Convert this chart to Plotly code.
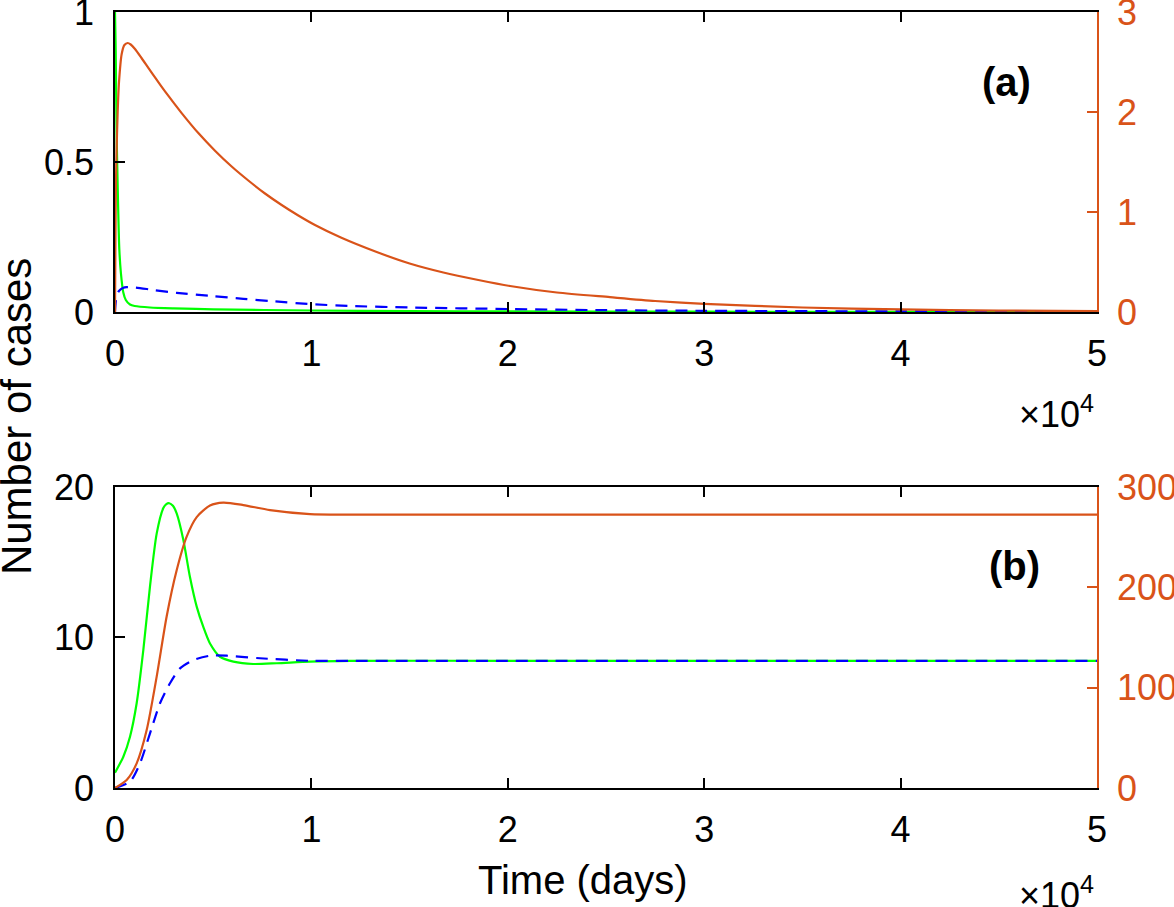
import plotly.graph_objects as go

# ---------------- data (days) ----------------
# Panel (a)
t_a_orange = [0, 25, 50, 85, 136, 204, 340, 480, 645, 800, 1018, 1350, 1697, 2100, 2546, 3000, 3394,
              4243, 5091, 5940, 6788, 7637, 8485, 9334, 10182, 11500, 13325, 15000, 16718, 18500,
              20112, 22500, 25204, 27500, 30000, 35000, 40000, 45000, 50000]
orange_a = [0, 0.8, 1.3, 1.65, 2.0, 2.3, 2.58, 2.67, 2.69, 2.675, 2.63, 2.54, 2.441, 2.328, 2.207, 2.088, 1.989,
            1.789, 1.613, 1.455, 1.315, 1.185, 1.07, 0.965, 0.87, 0.745, 0.60, 0.485, 0.395, 0.32,
            0.26, 0.195, 0.148, 0.11, 0.082, 0.045, 0.026, 0.014, 0.008]

t_a_green = [0, 15, 36, 80, 117, 160, 219, 300, 423, 550, 764, 1000, 1782, 3000, 5000,
             10000, 15000, 20000, 30000, 40000, 50000]
green_a = [1.0, 0.95, 0.87, 0.6, 0.48, 0.35, 0.21, 0.13, 0.065, 0.04, 0.025, 0.02, 0.015, 0.012, 0.009,
           0.005, 0.003, 0.002, 0.001, 0.0005, 0.0003]

t_a_blue = [0, 20, 50, 100, 200, 400, 600, 1000, 2000, 3140, 5000, 6533, 8000, 10000, 12000,
            15000, 20000, 25000, 30000, 40000, 50000]
blue_a = [0, 0.02, 0.04, 0.055, 0.07, 0.08, 0.083, 0.082, 0.073, 0.064, 0.053, 0.044, 0.036, 0.026, 0.02,
          0.015, 0.01, 0.006, 0.004, 0.002, 0.001]

# Panel (b)
t_b_green = [0, 424, 764, 1103, 1443, 1782, 2122, 2461, 2600, 2766, 2950, 3140, 3478, 3819, 4160, 4497,
             4837, 5347, 6025, 7040, 8234, 9929, 12000, 20000, 30000, 40000, 50000]
green_b = [1.02, 2.08, 3.41, 5.63, 9.17, 13.4, 16.9, 18.6, 18.85, 18.92, 18.75, 18.25, 16.5, 14.0, 12.05, 10.7,
           9.6, 8.72, 8.4, 8.24, 8.29, 8.4, 8.45, 8.45, 8.45, 8.45, 8.45]

t_b_orange = [0, 594, 1103, 1613, 2122, 2630, 3140, 3649, 4160, 4837, 5516, 6533, 7893, 9929,
              12000, 20000, 30000, 40000, 50000]
orange_b = [0, 8, 24.6, 57.8, 111, 171, 217, 250.5, 270, 281.5, 284.4, 282, 277, 273,
            272.5, 272.5, 272.5, 272.5, 272.5]

t_b_blue = [0, 764, 1273, 1782, 2291, 2800, 3310, 3987, 4837, 5688, 7383, 9929, 12000,
            20000, 30000, 40000, 50000]
blue_b = [0, 0.42, 1.64, 3.63, 5.63, 6.96, 7.95, 8.5, 8.79, 8.79, 8.62, 8.45, 8.45,
          8.45, 8.45, 8.45, 8.45]

x_tickvals = [0, 10000, 20000, 30000, 40000, 50000]
x_ticktext = ["0", "1", "2", "3", "4", "5"]
ya_left_ticks = [0, 0.5, 1]
ya_left_text = ["0", "0.5", "1"]
ya_right_ticks = [0, 1, 2, 3]
yb_left_ticks = [0, 10, 20]
yb_right_ticks = [0, 100, 200, 300]

ORANGE = "#D95319"
GREEN = "#00FF00"
BLUE = "#0000FF"
FONT = "Liberation Sans, Arial, Helvetica, sans-serif"
TICK_SIZE = 36
LABEL_SIZE = 40

fig = go.Figure()
lw = 2.2
SM = 0.7
def line(color, dash="solid"):
    return dict(color=color, width=lw, dash=dash, shape="spline", smoothing=SM)

fig.add_trace(go.Scatter(x=t_a_green, y=green_a, mode="lines", line=line(GREEN), xaxis="x", yaxis="y"))
fig.add_trace(go.Scatter(x=t_a_blue, y=blue_a, mode="lines", line=line(BLUE, "12px,8px"), xaxis="x", yaxis="y"))
fig.add_trace(go.Scatter(x=t_a_orange, y=orange_a, mode="lines", line=line(ORANGE), xaxis="x", yaxis="y2"))

fig.add_trace(go.Scatter(x=t_b_green, y=green_b, mode="lines", line=line(GREEN), xaxis="x2", yaxis="y3"))
fig.add_trace(go.Scatter(x=t_b_blue, y=blue_b, mode="lines", line=line(BLUE, "12px,8px"), xaxis="x2", yaxis="y3"))
fig.add_trace(go.Scatter(x=t_b_orange, y=orange_b, mode="lines", line=line(ORANGE), xaxis="x2", yaxis="y4"))

common_x = dict(range=[0, 50000], tickvals=x_tickvals, ticktext=x_ticktext, ticks="inside", ticklen=10,
                tickwidth=1.5, tickcolor="black", showline=True, linecolor="black", linewidth=1.5,
                mirror="ticks", showgrid=False, zeroline=False, automargin=False,
                ticklabeloverflow="allow",
                tickfont=dict(family=FONT, size=TICK_SIZE, color="black"), ticklabelstandoff=9)
common_yl = dict(ticks="inside", ticklen=10, tickwidth=1.5, tickcolor="black", showline=True,
                 linecolor="black", linewidth=1.5, showgrid=False, zeroline=False, automargin=False,
                 ticklabeloverflow="allow",
                 tickfont=dict(family=FONT, size=TICK_SIZE, color="black"), ticklabelstandoff=12)
common_yr = dict(ticks="inside", ticklen=10, tickwidth=1.5, tickcolor=ORANGE, showline=True,
                 linecolor=ORANGE, linewidth=1.5, showgrid=False, zeroline=False, side="right",
                 automargin=False, ticklabeloverflow="allow",
                 tickfont=dict(family=FONT, size=TICK_SIZE, color=ORANGE), ticklabelstandoff=11)

fig.update_layout(
    width=1174, height=907,
    margin=dict(l=115, r=77, t=12, b=119),
    paper_bgcolor="white", plot_bgcolor="white",
    showlegend=False,
    xaxis=dict(domain=[0, 1], anchor="y", **common_x),
    yaxis=dict(domain=[0.6134, 1], anchor="x", range=[0, 1], tickvals=ya_left_ticks, ticktext=ya_left_text, **common_yl),
    yaxis2=dict(overlaying="y", anchor="x", range=[0, 3], tickvals=ya_right_ticks, **common_yr),
    xaxis2=dict(domain=[0, 1], anchor="y3", **common_x),
    yaxis3=dict(domain=[0, 0.3879], anchor="x2", range=[0, 20], tickvals=yb_left_ticks, **common_yl),
    yaxis4=dict(overlaying="y3", anchor="x2", range=[0, 300], tickvals=yb_right_ticks, **common_yr),
)

ann_font = dict(family=FONT, size=TICK_SIZE, color="black")
fig.add_annotation(text="×10<sup>4</sup>", xref="paper", yref="paper", x=0.999, y=0.4845,
                   xanchor="right", yanchor="middle", showarrow=False, font=ann_font)
fig.add_annotation(text="×10<sup>4</sup>", xref="paper", yref="paper", x=0.999, y=-0.135,
                   xanchor="right", yanchor="middle", showarrow=False, font=ann_font)
fig.add_annotation(text="<b>(a)</b>", xref="paper", yref="paper", x=0.908, y=0.91,
                   xanchor="center", yanchor="middle", showarrow=False, font=dict(family=FONT, size=40, color="black"))
fig.add_annotation(text="<b>(b)</b>", xref="paper", yref="paper", x=0.9155, y=0.2865,
                   xanchor="center", yanchor="middle", showarrow=False, font=dict(family=FONT, size=40, color="black"))
fig.add_annotation(text="Time (days)", xref="paper", yref="paper", x=0.477, y=-0.1186,
                   xanchor="center", yanchor="middle", showarrow=False, font=dict(family=FONT, size=LABEL_SIZE, color="black"))
fig.add_annotation(text="Number of cases", xref="paper", yref="paper", x=-0.1008, y=0.478,
                   xanchor="center", yanchor="middle", textangle=-90, showarrow=False,
                   font=dict(family=FONT, size=42, color="black"))

# remove the browser's default 8px page margin so the figure fills the window exactly
fig.write_html("out.html", config={"displayModeBar": False},
               post_script="document.body.style.margin='0px';")
